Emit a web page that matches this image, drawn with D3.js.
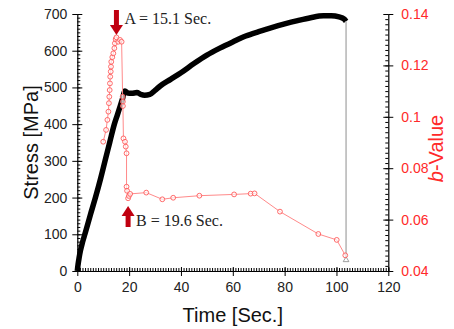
<!DOCTYPE html>
<html>
<head>
<meta charset="utf-8">
<script src="https://cdn.jsdelivr.net/npm/d3@7"></script>
<style>
  body { margin: 0; background: #fff; }
  text { font-family: "Liberation Sans", Arial, sans-serif; }
</style>
</head>
<body>
<div id="chart"></div>
<script>
const width = 454, height = 329;
const plotLeft = 77.3, plotRight = 388.3, plotTop = 14, plotBottom = 271;

// stress curve (black)
const stressTime = [0, 0.3, 0.7, 1.2, 2, 3, 5, 7, 9, 10.7, 12.5, 14.3, 15.5, 16.5, 17.4, 18.4,
  19.5, 21, 23, 24.5, 26, 28, 30, 32, 36, 40, 45, 50, 55, 60, 65, 70, 75, 80, 85, 90, 95, 98, 101, 103, 103.7];
const stressValue = [0, 18, 36, 55, 78, 102, 152, 200, 252, 300, 350, 400, 426, 448, 468, 490,
  485, 484, 486, 481, 479, 481, 492, 504, 522, 540, 565, 588, 607, 624, 640, 652, 663, 673, 682, 690, 695, 695, 692, 686, 680];
// final drop (grey)
const dropTime = [103.7, 103.7];
const dropValue = [680, 30];

// b-value (red)
const bTime = [10.0, 11.1, 11.6, 12.0, 12.2, 12.35, 12.5, 12.6, 12.7, 12.9, 13.0, 13.1, 13.5, 13.9, 14.3, 14.5, 14.8,
  15.1, 15.8, 16.5, 17.1, 17.5, 17.6, 17.6, 17.8, 18.4, 18.7, 19.0, 19.0, 19.2, 19.6, 19.9, 20.4,
  26.6, 32.8, 37.0, 47.1, 60.5, 66.9, 68.4, 78.2, 93.0, 100.1, 103.4];
const bValue = [0.0903, 0.0949, 0.0988, 0.1020, 0.1053, 0.1078, 0.1104, 0.1130, 0.1156, 0.1176, 0.1195, 0.1214, 0.1232, 0.1247, 0.1267, 0.1286, 0.1302,
  0.1309, 0.1292, 0.1299, 0.1292, 0.1078, 0.1059, 0.1042, 0.0916, 0.0903, 0.0884, 0.0858, 0.0728, 0.0712, 0.0683, 0.0692, 0.0700,
  0.0705, 0.0679, 0.0685, 0.0693, 0.0698, 0.0701, 0.0702, 0.0631, 0.0544, 0.0521, 0.0461];

const xTicks = [0, 20, 40, 60, 80, 100, 120];
const yTicks = [0, 100, 200, 300, 400, 500, 600, 700];
const bTicks = [0.04, 0.06, 0.08, 0.1, 0.12, 0.14];

const marks = [
  { label: "A = 15.1 Sec.", t: 15.1, dir: "down" },
  { label: "B = 19.6 Sec.", t: 19.6, dir: "up" }
];

const x = d3.scaleLinear().domain([0, 120]).range([plotLeft, plotRight]);
const y = d3.scaleLinear().domain([0, 700]).range([plotBottom, plotTop]);
const yb = d3.scaleLinear().domain([0.04, 0.14]).range([plotBottom, plotTop]);

const svg = d3.select("#chart").append("svg")
  .attr("width", width)
  .attr("height", height);

// axes
function styleAxis(g, color) {
  g.select(".domain").attr("stroke", "#000").attr("stroke-width", 1.2);
  g.selectAll(".tick line").attr("stroke", "#000").attr("stroke-width", 1);
  g.selectAll(".tick text").attr("fill", color).style("font-size", "14px")
    .style("font-family", "Liberation Sans, Arial, sans-serif");
}

// x axis
const xg = svg.append("g").attr("transform", `translate(0,${plotBottom})`);
xg.append("g").call(d3.axisBottom(x).tickValues(d3.range(0, 121, 1)).tickSize(-3).tickFormat(""))
  .call(g => g.select(".domain").remove());
xg.append("g").call(d3.axisBottom(x).tickValues(xTicks).tickSize(-4).tickFormat(""))
  .call(g => g.select(".domain").remove());
xg.append("g").call(d3.axisBottom(x).tickValues(xTicks).tickSize(5).tickPadding(6).tickSizeOuter(0))
  .call(g => styleAxis(g, "#222"));

// left axis
const yg = svg.append("g").attr("transform", `translate(${plotLeft},0)`);
yg.append("g").call(d3.axisLeft(y).tickValues(d3.range(0, 701, 10)).tickSize(-3).tickFormat(""))
  .call(g => g.select(".domain").remove());
yg.append("g").call(d3.axisLeft(y).tickValues(yTicks).tickSize(-5).tickFormat(""))
  .call(g => g.select(".domain").remove());
yg.append("g").call(d3.axisLeft(y).tickValues(yTicks).tickSize(5).tickPadding(5).tickSizeOuter(0))
  .call(g => styleAxis(g, "#222"));

// right axis
const bg = svg.append("g").attr("transform", `translate(${plotRight},0)`);
bg.append("g").call(d3.axisRight(yb).tickValues(d3.range(0, 51, 1).map(i => 0.04 + i * 0.002)).tickSize(-3).tickFormat(""))
  .call(g => g.select(".domain").remove());
bg.append("g").call(d3.axisRight(yb).tickValues(bTicks).tickSize(-5).tickFormat(""))
  .call(g => g.select(".domain").remove());
bg.append("g").call(d3.axisRight(yb).tickValues(bTicks).tickSize(5).tickPadding(8).tickSizeOuter(0)
    .tickFormat(d => d3.format("~g")(+d.toFixed(2))))
  .call(g => styleAxis(g, "#ff2a2a"));

// axis titles
svg.append("text")
  .attr("transform", `translate(38,${(plotTop + plotBottom) / 2}) rotate(-90)`)
  .attr("text-anchor", "middle")
  .attr("font-size", "20px")
  .attr("fill", "#111")
  .text("Stress [MPa]");

svg.append("text")
  .attr("x", (plotLeft + plotRight) / 2)
  .attr("y", 322)
  .attr("text-anchor", "middle")
  .attr("font-size", "20px")
  .attr("fill", "#111")
  .text("Time [Sec.]");

const bt = svg.append("text")
  .attr("transform", `translate(443,${(plotTop + plotBottom) / 2 + 6}) rotate(-90)`)
  .attr("text-anchor", "middle")
  .attr("font-size", "20px")
  .attr("fill", "#ff2a2a");
bt.append("tspan").attr("font-style", "italic").text("b");
bt.append("tspan").text("-Value");

// stress curve
const stressData = stressTime.map((t, i) => ({ t, v: stressValue[i] }));
svg.append("path")
  .datum(stressData)
  .attr("fill", "none")
  .attr("stroke", "#000")
  .attr("stroke-width", 5.5)
  .attr("stroke-linejoin", "round")
  .attr("d", d3.line().x(d => x(d.t)).y(d => y(d.v)).curve(d3.curveMonotoneX));

// final drop
const dropData = dropTime.map((t, i) => ({ t, v: dropValue[i] }));
svg.append("path")
  .datum(dropData)
  .attr("fill", "none")
  .attr("stroke", "#b4b4b4")
  .attr("stroke-width", 1.5)
  .attr("d", d3.line().x(d => x(d.t)).y(d => y(d.v)));
svg.append("path")
  .attr("transform", `translate(${x(dropData[1].t)},${y(dropData[1].v)})`)
  .attr("d", d3.symbol(d3.symbolTriangle, 14)())
  .attr("fill", "#fff")
  .attr("stroke", "#888")
  .attr("stroke-width", 0.8);

// b-value
const bData = bTime.map((t, i) => ({ t, v: bValue[i] }));
svg.append("path")
  .datum(bData)
  .attr("fill", "none")
  .attr("stroke", "#ff8a8a")
  .attr("stroke-width", 1)
  .attr("d", d3.line().x(d => x(d.t)).y(d => yb(d.v)));
svg.selectAll(".bdot")
  .data(bData)
  .join("circle")
  .attr("class", "bdot")
  .attr("cx", d => x(d.t))
  .attr("cy", d => yb(d.v))
  .attr("r", 2.4)
  .attr("fill", "#fff")
  .attr("fill-opacity", 0.6)
  .attr("stroke", "#ff5a5a")
  .attr("stroke-width", 0.9);

// arrows
const arrowColor = "#c00010";
marks.forEach(m => {
  const cx = x(m.t);
  let shaftY0, headBase, tip, textY;
  if (m.dir === "down") {
    shaftY0 = 10; headBase = 25; tip = 35; textY = 24;
  } else {
    shaftY0 = 227; headBase = 216; tip = 206; textY = 226;
  }
  svg.append("rect")
    .attr("x", cx - 2.5)
    .attr("y", Math.min(shaftY0, headBase))
    .attr("width", 5)
    .attr("height", Math.abs(headBase - shaftY0))
    .attr("fill", arrowColor);
  svg.append("path")
    .attr("d", `M${cx - 6.5},${headBase}L${cx + 6.5},${headBase}L${cx},${tip}Z`)
    .attr("fill", arrowColor);
  svg.append("text")
    .attr("x", cx + 8)
    .attr("y", textY)
    .style("font-family", "'Liberation Serif', 'Times New Roman', serif")
    .style("font-size", "16px")
    .attr("fill", "#222")
    .text(m.label);
});
</script>
</body>
</html>
